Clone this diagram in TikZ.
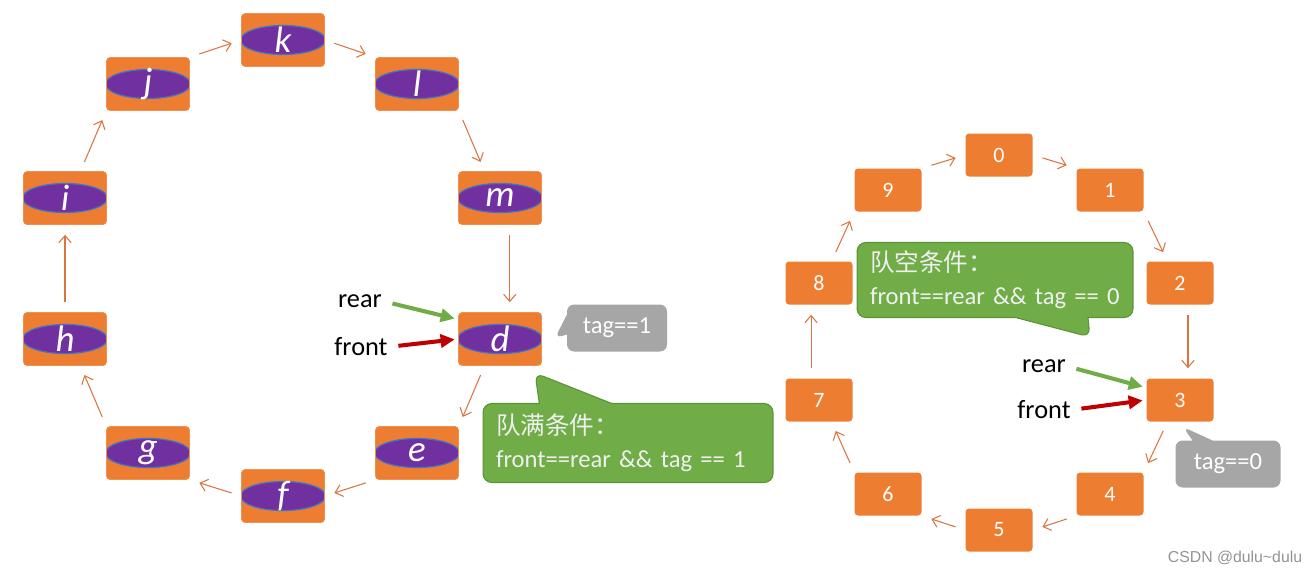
\documentclass[tikz,border=0pt]{standalone}
\usepackage{fontspec}
\usepackage{xcolor}
\usetikzlibrary{arrows.meta,shapes.geometric,shapes.callouts,calc}
\setmainfont{Carlito}
\newfontfamily\cjk{Noto Sans CJK SC}
\newfontfamily\wmfont{Liberation Sans}
\definecolor{cellorange}{HTML}{ED7D31}
\definecolor{ovalpurple}{HTML}{7030A0}
\definecolor{ovalblue}{HTML}{4472C4}
\definecolor{notegreen}{HTML}{70AD47}
\definecolor{notegreenline}{HTML}{5B9236}
\definecolor{notegray}{HTML}{A6A6A6}
\definecolor{ptrred}{HTML}{C00000}
\definecolor{linkorange}{HTML}{DA7440}

\begin{document}
\begin{tikzpicture}[
  x=0.02cm, y=-0.02cm,
  cell/.style={rectangle,rounded corners=2pt,fill=cellorange,draw=cellorange!85!white,minimum width=1.66cm,minimum height=1.06cm,inner sep=0pt,text=white,font=\fontsize{21}{21}\selectfont\itshape,
    path picture={\draw[ovalblue,fill=ovalpurple,line width=0.7pt] (path picture bounding box.center) ellipse (0.85cm and 0.29cm);}},
  slot/.style={rectangle,rounded corners=2pt,fill=cellorange,minimum width=1.34cm,minimum height=0.86cm,inner sep=0pt,text=white,font=\fontsize{12.5}{12.5}\selectfont},
  link/.style={linkorange,line width=0.6pt,-{Straight Barb[length=4pt,width=7pt]},shorten <=0.2cm,shorten >=0.2cm},
  ptrlabel/.style={inner sep=0pt,font=\fontsize{15}{15}\selectfont},
  rearptr/.style={notegreen,line width=2.3pt,-{Triangle[length=8pt,width=7.5pt]},shorten <=6pt,shorten >=2pt},
  frontptr/.style={ptrred,line width=2.3pt,-{Triangle[length=8pt,width=7.5pt]},shorten <=6pt,shorten >=2pt},
  bignote/.style={rectangle callout,rounded corners=5pt,fill=notegreen,draw=notegreenline,line width=0.6pt,text=white!94!black,align=left,inner xsep=0.26cm,minimum height=1.58cm,callout pointer width=1.45cm,font=\fontsize{14}{18.7}\selectfont},
  tagnote/.style={rectangle callout,rounded corners=4pt,fill=notegray,text=white,minimum width=2cm,minimum height=0.94cm,callout pointer width=0.4cm,font=\fontsize{14}{14}\selectfont},
  wmark/.style={inner sep=0pt,text=gray!85,font=\wmfont\fontsize{9}{9}\selectfont}
]
  \useasboundingbox (0,0) rectangle (1310,575);
  % full queue, tag==1
  \node[cell] (k) at (283,40) {k};
  \node[cell] (j) at (148,84) {j};
  \node[cell] (l) at (417,84) {l};
  \node[cell] (i) at (65,198) {i};
  \node[cell] (m) at (500,198) {m};
  \node[cell] (h) at (65,339) {h};
  \node[cell] (d) at (500,339) {d};
  \node[cell] (g) at (148,453) {g};
  \node[cell] (e) at (417,453) {e};
  \node[cell] (f) at (283,496) {f};
  \draw[link] (j.north east) -- (k.west);
  \draw[link] (k.east) -- (l.north west);
  \draw[link] (l.south east) -- (m.120);
  \draw[link] (m.-70) -- (d.70);
  \draw[link] (d.-120) -- (e.north east);
  \draw[link] (e.south west) -- (f.east);
  \draw[link] (f.west) -- (g.south east);
  \draw[link] (g.north west) -- (h.-60);
  \draw[link] (h) -- (i);
  \draw[link] (i.60) -- (j.south west);
  \node[ptrlabel] (rearL) at (360,301) {rear};
  \node[ptrlabel] (frontL) at (361,347) {front};
  \draw[rearptr] (rearL.east) -- (d.155);
  \draw[frontptr] (frontL.east) -- (d.west);
  \coordinate (tagOneTip) at (555,338);
  \coordinate (fullTip) at (535,373);
  \node[tagnote,callout absolute pointer={(tagOneTip)}] (tagOne) at (617,328) {tag==1};
  \node[bignote,text width=5.28cm,callout absolute pointer={(fullTip)}] (fullNote) at (628,443)
    {{\cjk 队满条件：}\\front==rear \&\& tag == 1};
  % empty queue, tag==0
  \node[slot] (s0) at (999,155) {0};
  \node[slot] (s1) at (1110,190) {1};
  \node[slot] (s2) at (1180,283) {2};
  \node[slot] (s3) at (1180,400) {3};
  \node[slot] (s4) at (1110,494) {4};
  \node[slot] (s5) at (999,530) {5};
  \node[slot] (s6) at (888,494) {6};
  \node[slot] (s7) at (819,400) {7};
  \node[slot] (s8) at (819,283) {8};
  \node[slot] (s9) at (888,190) {9};
  \draw[link] (s9.north east) -- (s0.west);
  \draw[link] (s0.east) -- (s1.north west);
  \draw[link] (s1.south east) -- (s2.120);
  \draw[link] (s2.-70) -- (s3.70);
  \draw[link] (s3.-120) -- (s4.north east);
  \draw[link] (s4.south west) -- (s5.east);
  \draw[link] (s5.west) -- (s6.south east);
  \draw[link] (s6.north west) -- (s7.-60);
  \draw[link] (s7.110) -- (s8.-110);
  \draw[link] (s8.60) -- (s9.south west);
  \node[ptrlabel] (rearR) at (1044,366) {rear};
  \node[ptrlabel] (frontR) at (1044,410) {front};
  \draw[rearptr] (rearR.east) -- (s3.160);
  \draw[frontptr] (frontR.east) -- (s3.west);
  \coordinate (tagZeroTip) at (1183,427);
  \coordinate (emptyTip) at (1090,337);
  \node[tagnote,minimum width=2.1cm,callout absolute pointer={(tagZeroTip)}] (tagZero) at (1228,464) {tag==0};
  \node[bignote,text width=5.0cm,minimum height=1.5cm,callout absolute pointer={(emptyTip)}] (emptyNote) at (995,280)
    {{\cjk 队空条件：}\\front==rear \&\&~tag == 0};
  \node[wmark] (credit) at (1235,558) {CSDN @dulu\textasciitilde dulu};
\end{tikzpicture}
\end{document}
